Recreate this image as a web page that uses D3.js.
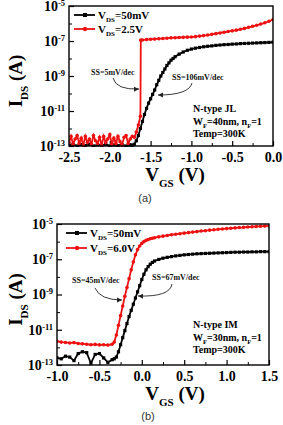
<!DOCTYPE html>
<html>
<head>
<meta charset="utf-8">
<script src="https://cdn.jsdelivr.net/npm/d3@7"></script>
<style>
  body { margin: 0; background: #fff; }
</style>
</head>
<body>
<div id="chart"></div>
<script>
// panel (a): N-type JL (log10 of I_DS in A)
let vgsA_50mV = [-2.5, -2.45, -2.4, -2.35, -2.3, -2.25, -2.2, -2.15, -2.1, -2.05, -2.0, -1.95, -1.9, -1.85, -1.8, -1.75,
  -1.725, -1.7, -1.675, -1.65, -1.625, -1.6, -1.575, -1.55, -1.525, -1.5, -1.475, -1.45, -1.425, -1.4, -1.375, -1.35, -1.325, -1.3, -1.275, -1.25, -1.225, -1.2,
  -1.15, -1.1, -1.05, -1.0, -0.95, -0.9, -0.85, -0.8, -0.75, -0.7, -0.65, -0.6, -0.55, -0.5, -0.45, -0.4, -0.35, -0.3, -0.25, -0.2, -0.15, -0.1, -0.05, 0];
let logIdsA_50mV = [-12.95, -12.9, -13.0, -12.92, -12.98, -12.9, -13.0, -12.93, -12.97, -12.9, -13.0, -12.94, -12.98, -12.92, -13.0, -12.95,
  -12.95, -12.9, -12.7, -12.4, -12.0, -11.6, -11.2, -10.85, -10.55, -10.3, -10.05, -9.8, -9.5, -9.25, -9.0, -8.8, -8.6, -8.4, -8.25, -8.1, -8.0, -7.9,
  -7.75, -7.63, -7.53, -7.46, -7.41, -7.37, -7.33, -7.3, -7.28, -7.25, -7.23, -7.21, -7.2, -7.18, -7.17, -7.15, -7.14, -7.13, -7.12, -7.11, -7.1, -7.09, -7.08, -7.07];

let vgsA_2V5 = [-2.5, -2.475, -2.45, -2.425, -2.4, -2.375, -2.35, -2.325, -2.3, -2.275, -2.25, -2.225, -2.2, -2.175, -2.15, -2.125, -2.1,
  -2.075, -2.05, -2.025, -2.0, -1.975, -1.95, -1.925, -1.9, -1.875, -1.85, -1.825, -1.8, -1.775, -1.75, -1.725, -1.7,
  -1.675, -1.65, -1.625, -1.62,
  -1.6, -1.55, -1.5, -1.45, -1.4, -1.35, -1.3, -1.25, -1.2, -1.15, -1.1, -1.05, -1.0, -0.95, -0.9, -0.85, -0.8, -0.75, -0.7, -0.65, -0.6,
  -0.55, -0.5, -0.45, -0.4, -0.35, -0.3, -0.25, -0.2, -0.15, -0.1, -0.05, 0];
let logIdsA_2V5 = [-12.8, -12.45, -12.9, -12.6, -12.4, -12.85, -12.55, -12.95, -12.45, -12.8, -12.6, -12.9, -12.4, -12.7, -12.85, -12.5, -12.95,
  -12.45, -12.8, -12.6, -12.35, -12.9, -12.55, -12.85, -12.45, -12.75, -12.95, -12.5, -12.4, -12.85, -12.6, -12.45, -12.5,
  -12.2, -11.8, -11.3, -6.95,
  -6.94, -6.92, -6.9, -6.89, -6.87, -6.86, -6.84, -6.82, -6.81, -6.8, -6.79, -6.78, -6.77, -6.75, -6.72, -6.69, -6.66, -6.62, -6.58, -6.54, -6.5,
  -6.46, -6.42, -6.38, -6.33, -6.28, -6.22, -6.16, -6.1, -6.03, -5.96, -5.87, -5.78];

// panel (b): N-type IM
let vgsB = [-1.0, -0.95, -0.9, -0.85, -0.8, -0.75, -0.7, -0.65, -0.6, -0.55, -0.5, -0.45, -0.4, -0.35,
  -0.325, -0.3, -0.275, -0.25, -0.225, -0.2, -0.175, -0.15, -0.125, -0.1, -0.075, -0.05, -0.025, 0, 0.025, 0.05, 0.075, 0.1, 0.125,
  0.15, 0.2, 0.25, 0.3, 0.35, 0.4, 0.45, 0.5, 0.55, 0.6, 0.65, 0.7, 0.75, 0.8, 0.85, 0.9, 0.95, 1.0, 1.05, 1.1, 1.15, 1.2, 1.25, 1.3, 1.35, 1.4, 1.45, 1.5];
let logIdsB_50mV = [-12.6, -12.65, -12.5, -12.55, -12.75, -12.35, -12.25, -12.3, -12.9, -12.4, -12.35, -12.6, -12.85, -12.7,
  -12.65, -12.55, -12.25, -11.85, -11.45, -11.05, -10.65, -10.25, -9.9, -9.55, -9.2, -8.85, -8.5, -8.15, -7.85, -7.6, -7.42, -7.28, -7.18,
  -7.1, -7.01, -6.94, -6.89, -6.85, -6.81, -6.78, -6.75, -6.73, -6.71, -6.69, -6.68, -6.67, -6.66, -6.65, -6.64, -6.63, -6.62, -6.61, -6.6, -6.6, -6.59, -6.59, -6.58, -6.58, -6.57, -6.57, -6.57];
let logIdsB_6V = [-11.65, -11.7, -11.72, -11.75, -11.73, -11.78, -11.8, -11.82, -11.85, -11.83, -11.86, -11.85, -11.87, -11.82,
  -11.7, -11.3, -10.75, -10.2, -9.65, -9.1, -8.6, -8.1, -7.6, -7.15, -6.75, -6.45, -6.25, -6.1, -6.0, -5.93, -5.88, -5.84, -5.81,
  -5.78, -5.73, -5.69, -5.65, -5.61, -5.58, -5.55, -5.52, -5.49, -5.46, -5.43, -5.4, -5.38, -5.35, -5.33, -5.3, -5.28, -5.26, -5.24, -5.22, -5.2, -5.19, -5.17, -5.16, -5.14, -5.13, -5.12, -5.11];

// ticks
let yTicks = [1e-13, 1e-11, 1e-9, 1e-7, 1e-5];
let yMinor = [1e-12, 1e-10, 1e-8, 1e-6];
let xTicksA = [-2.5, -2.0, -1.5, -1.0, -0.5, 0.0];
let xMinorA = [-2.25, -1.75, -1.25, -0.75, -0.25];
let xTicksB = [-1.0, -0.5, 0.0, 0.5, 1.0, 1.5];
let xMinorB = [-0.75, -0.25, 0.25, 0.75, 1.25];

let serif = "'Liberation Serif', 'Times New Roman', serif";
let black = '#000';
let red = '#ee1111';

let svg_width = 283;
let svg_height = 425;

let svg = d3.select('#chart').append('svg')
  .attr('width', svg_width)
  .attr('height', svg_height);

// arrow head for the SS annotations
svg.append('defs').append('marker')
  .attr('id', 'arrow')
  .attr('markerUnits', 'userSpaceOnUse')
  .attr('markerWidth', 6)
  .attr('markerHeight', 6)
  .attr('refX', 5)
  .attr('refY', 3)
  .attr('orient', 'auto')
  .append('path')
  .attr('d', 'M0,0.5 L5,3 L0,5.5 Z')
  .attr('fill', '#222');

// text with a subscript piece: parts = [[text, 'sub'|'n'], ...]
function richText(sel, parts, size, subSize) {
  let shift = 0;
  parts.forEach(function(p) {
    let sub = p[1] === 'sub';
    let target = sub ? size * 0.3 : 0;
    sel.append('tspan')
      .attr('dy', target - shift)
      .attr('font-size', sub ? subSize : size)
      .text(p[0]);
    shift = target;
  });
}

function drawPanel(p) {
  let x = d3.scaleLinear().domain(p.xDomain).range([p.left, p.right]);
  let y = d3.scaleLog().domain([1e-13, 1e-5]).range([p.bottom, p.top]);

  let g = svg.append('g');

  g.append('clipPath').attr('id', p.id + '-clip')
    .append('rect')
    .attr('x', p.left).attr('y', p.top - 1)
    .attr('width', p.right - p.left).attr('height', p.bottom - p.top + 2);

  // x axis
  let xAxis = g.append('g')
    .attr('transform', `translate(0, ${p.bottom})`)
    .call(d3.axisBottom(x).tickValues(p.xTicks).tickSizeInner(-5).tickSizeOuter(0)
      .tickPadding(6).tickFormat(d => d.toFixed(1)));
  xAxis.attr('font-family', serif).attr('font-size', 14).attr('font-weight', 'bold');
  xAxis.select('.domain').remove();
  xAxis.selectAll('line').attr('stroke-width', 1.2);

  let xMinor = g.append('g')
    .attr('transform', `translate(0, ${p.bottom})`)
    .call(d3.axisBottom(x).tickValues(p.xMinor).tickSizeInner(-3).tickSizeOuter(0).tickFormat(''));
  xMinor.select('.domain').remove();

  // y axis
  let yAxis = g.append('g')
    .attr('transform', `translate(${p.left}, 0)`)
    .call(d3.axisLeft(y).tickValues(yTicks).tickSizeInner(-5).tickSizeOuter(0)
      .tickPadding(4).tickFormat(''));
  yAxis.attr('font-family', serif).attr('font-size', 14).attr('font-weight', 'bold');
  yAxis.select('.domain').remove();
  yAxis.selectAll('line').attr('stroke-width', 1.2);
  yAxis.selectAll('.tick text').each(function(d) {
    let t = d3.select(this);
    t.append('tspan').text('10');
    t.append('tspan').attr('dy', -5).attr('font-size', 8.5).text(Math.round(Math.log10(d)));
  });

  let yMinorAxis = g.append('g')
    .attr('transform', `translate(${p.left}, 0)`)
    .call(d3.axisLeft(y).tickValues(yMinor).tickSizeInner(-3).tickSizeOuter(0).tickFormat(''));
  yMinorAxis.select('.domain').remove();

  // curves
  let plot = g.append('g').attr('clip-path', `url(#${p.id}-clip)`);
  p.series.forEach(function(s) {
    let pts = s.vgs.map((v, i) => ({ v: v, i: Math.pow(10, s.logIds[i]) }));
    let line = d3.line().x(d => x(d.v)).y(d => y(d.i));
    plot.append('path')
      .datum(pts)
      .attr('fill', 'none')
      .attr('stroke', s.color)
      .attr('stroke-width', 1.8)
      .attr('d', line);
    if (s.shape === 'square') {
      plot.selectAll(null).data(pts).enter().append('rect')
        .attr('x', d => x(d.v) - 1.6).attr('y', d => y(d.i) - 1.6)
        .attr('width', 3.2).attr('height', 3.2)
        .attr('fill', s.color);
    } else {
      plot.selectAll(null).data(pts).enter().append('circle')
        .attr('cx', d => x(d.v)).attr('cy', d => y(d.i))
        .attr('r', 1.8)
        .attr('fill', s.color);
    }
  });

  // frame
  g.append('rect')
    .attr('x', p.left).attr('y', p.top)
    .attr('width', p.right - p.left).attr('height', p.bottom - p.top)
    .attr('fill', 'none').attr('stroke', '#000').attr('stroke-width', 1.4);

  // legend
  p.series.forEach(function(s, k) {
    let ly = p.legendY + k * p.legendGap;
    g.append('line')
      .attr('x1', p.legendX).attr('x2', p.legendX + 21)
      .attr('y1', ly).attr('y2', ly)
      .attr('stroke', s.color).attr('stroke-width', 1.8);
    if (s.shape === 'square') {
      g.append('rect').attr('x', p.legendX + 9).attr('y', ly - 2)
        .attr('width', 4).attr('height', 4).attr('fill', s.color);
    } else {
      g.append('circle').attr('cx', p.legendX + 11).attr('cy', ly)
        .attr('r', 2.2).attr('fill', s.color);
    }
    let t = g.append('text')
      .attr('x', p.legendX + 24).attr('y', ly + 4)
      .attr('font-family', serif).attr('font-weight', 'bold');
    richText(t, [['V', 'n'], ['DS', 'sub'], [s.label, 'n']], 11, 7);
  });

  // axis titles
  let xt = g.append('text')
    .attr('x', p.xTitleX).attr('y', p.bottom + 35)
    .attr('text-anchor', 'middle')
    .attr('font-family', serif).attr('font-weight', 'bold');
  richText(xt, [['V', 'n'], ['GS', 'sub'], [' (V)', 'n']], 19, 11);

  let yt = g.append('text')
    .attr('transform', `translate(22, ${(p.top + p.bottom) / 2 + 5}) rotate(-90)`)
    .attr('text-anchor', 'middle')
    .attr('font-family', serif).attr('font-weight', 'bold');
  richText(yt, [['I', 'n'], ['DS', 'sub'], [' (A)', 'n']], 19, 11);

  // device info
  p.info.forEach(function(parts, k) {
    let t = g.append('text')
      .attr('x', p.left + p.infoDx).attr('y', p.top + p.infoDy + k * 12.5)
      .attr('font-family', serif).attr('font-weight', 'bold');
    richText(t, parts, 10, 6.5);
  });

  // SS annotations
  p.notes.forEach(function(n) {
    g.append('text')
      .attr('x', n.tx).attr('y', n.ty)
      .attr('font-family', serif).attr('font-weight', 'bold')
      .attr('font-size', 8).attr('fill', '#111')
      .text(n.text);
    g.append('path')
      .attr('d', `M${n.a[0]},${n.a[1]} Q${n.a[2]},${n.a[3]} ${n.a[4]},${n.a[5]}`)
      .attr('fill', 'none').attr('stroke', '#222').attr('stroke-width', 0.9)
      .attr('marker-end', 'url(#arrow)');
  });

  // panel caption
  svg.append('text')
    .attr('x', p.capX).attr('y', p.capY)
    .attr('text-anchor', 'middle')
    .attr('font-family', "'Liberation Sans', Arial, sans-serif")
    .attr('font-size', 11).attr('fill', '#333')
    .text(p.caption);
}

drawPanel({
  id: 'a', left: 69, right: 273, top: 6, bottom: 146,
  xDomain: [-2.5, 0], xTicks: xTicksA, xMinor: xMinorA, xTitleX: 175,
  series: [
    { vgs: vgsA_50mV, logIds: logIdsA_50mV, color: black, shape: 'square', label: '=50mV' },
    { vgs: vgsA_2V5, logIds: logIdsA_2V5, color: red, shape: 'circle', label: '=2.5V' }
  ],
  legendX: 74, legendY: 15, legendGap: 14,
  infoDx: 124, infoDy: 106,
  info: [
    [['N-type JL', 'n']],
    [['W', 'n'], ['F', 'sub'], ['=40nm, n', 'n'], ['F', 'sub'], ['=1', 'n']],
    [['Temp=300K', 'n']]
  ],
  notes: [
    { text: 'SS=5mV/dec', tx: 91, ty: 75, a: [113, 78, 116, 90, 139, 89] },
    { text: 'SS=106mV/dec', tx: 172, ty: 80, a: [192, 83, 189, 95, 158, 95] }
  ],
  caption: '(a)', capX: 145, capY: 202
});

drawPanel({
  id: 'b', left: 57, right: 269, top: 224, bottom: 365,
  xDomain: [-1.0, 1.5], xTicks: xTicksB, xMinor: xMinorB, xTitleX: 175,
  series: [
    { vgs: vgsB, logIds: logIdsB_50mV, color: black, shape: 'square', label: '=50mV' },
    { vgs: vgsB, logIds: logIdsB_6V, color: red, shape: 'circle', label: '=6.0V' }
  ],
  legendX: 66, legendY: 233, legendGap: 15,
  infoDx: 136, infoDy: 104,
  info: [
    [['N-type IM', 'n']],
    [['W', 'n'], ['F', 'sub'], ['=30nm, n', 'n'], ['F', 'sub'], ['=1', 'n']],
    [['Temp=300K', 'n']]
  ],
  notes: [
    { text: 'SS=45mV/dec', tx: 72, ty: 283, a: [95, 288, 100, 300, 122, 300] },
    { text: 'SS=67mV/dec', tx: 152, ty: 280, a: [172, 284, 170, 297, 138, 296] }
  ],
  caption: '(b)', capX: 148, capY: 420
});
</script>
</body>
</html>
